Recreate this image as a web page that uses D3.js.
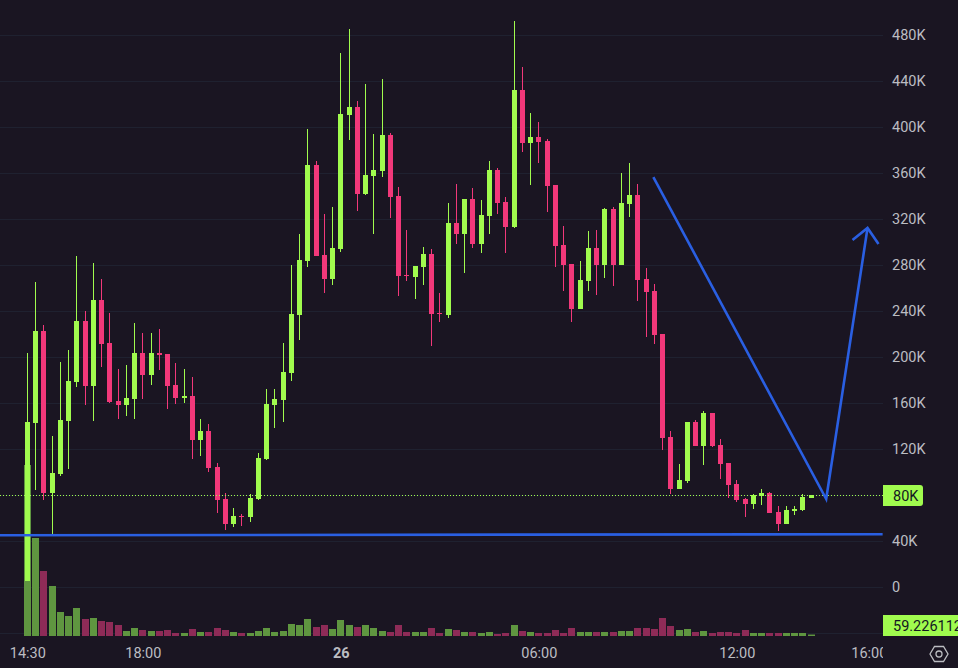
<!DOCTYPE html>
<html>
<head>
<meta charset="utf-8">
<script src="https://cdn.jsdelivr.net/npm/d3@7"></script>
<style>
	html, body { margin: 0; padding: 0; background: #1a1522; }
	svg { display: block; font-family: Roboto, sans-serif; }
</style>
</head>
<body>
<script>
// * DATA (15 minute bars, prices in K)
const opens = [
	5.2,142.6,222.6,81.7,98.3,144.3,178.3,231.3,174.8,249.6,
	212.2,161.7,158.3,163.5,203.5,184.3,203.5,202.6,175.7,164.3,
	166.1,127.8,135.7,104.3,76.5,54.8,61.7,60.9,76.5,111.3,
	158.3,162.6,186.1,236.5,283.5,367,288.7,267.8,293.9,410.4,
	417.4,341.7,357.4,361.7,393,340,271.3,269.6,278.3,289.6,
	238.3,236.5,316.5,307,337.4,298.3,322.6,362.6,334.8,313,
	432.2,386.1,391.3,387.8,349.6,297.4,280.9,241.7,266.1,294.8,
	280,328.7,280,333,340.9,267.8,257.4,220,130.4,85.2,
	92.2,143.5,122.6,151.3,123.5,107.8,89.6,76.5,72.2,79.1,
	81.7,65.2,54.8,66.1,67,77.4
];
const highs = [
	203.5,265.2,227.8,131.3,195.7,206.1,287.8,240,281.7,267.8,
	238.3,189.6,193,229.6,220.9,220.9,224.3,202.6,194.8,189.6,
	182.6,146.1,141.7,107.8,81.7,68.7,63.5,80.9,116.5,172.2,
	172.2,212.2,280,307,398.3,370.4,324.3,330.4,464.3,485.2,
	422.6,437.4,393.9,441.7,394.8,347.8,310.4,279.1,295.7,293.9,
	255.7,333.9,350.4,337.4,347,336.5,370.4,364.3,339.1,492.2,
	452.2,412.2,404.3,389.6,349.6,313.9,280.9,283.5,309.6,310.4,
	329.6,330.4,360,368.7,350.4,277.4,263.5,220,135.7,107,
	143.5,145.2,153,151.3,128.7,107.8,93,77.4,80.9,85.2,
	82.6,70.4,70.4,70.4,80.9,80
];
const lows = [
	5.2,84.3,75.7,45.2,96.5,102.6,173.9,158.3,144.3,191.3,
	160,146.1,148.7,146.1,163.5,175.7,188.7,154.8,159.1,160,
	111.3,113.9,100,64.3,49.6,52.2,53,56.5,75.7,110.4,
	138.3,143.5,179.1,214.8,278.3,287.8,255.7,262.6,291.3,388.7,
	327,340.9,307,356.5,320.9,253,266.1,250.4,262.6,209.6,
	230.4,233.9,298.3,273,294.8,290.4,307,324.3,290.4,312.2,
	378.3,349.6,368.7,326.1,278.3,257.4,230.4,241.7,257.4,253.9,
	268.7,261.7,280,321.7,248.7,217.4,211.3,119.1,80.9,85.2,
	90.4,122.6,106.1,121.7,93.9,77.4,73.9,60.9,67.8,71.3,
	64.3,48.7,54.8,62.6,66.1,77.4
];
const closes = [
	143.5,222.6,81.7,99.1,145.2,179.1,231.3,174.8,249.6,211.3,
	160.9,158.3,164.3,203.5,184.3,203.5,201.7,174.8,164.3,166.1,
	127.8,135.7,103.5,75.7,54.8,61.7,60.9,77.4,112.2,159.1,
	163.5,187,237.4,284.3,367,287.8,267.8,294.8,411.3,417.4,
	341.7,358.3,362.6,393,339.1,270.4,270.4,279.1,289.6,237.4,
	237.4,316.5,307,337.4,298.3,323.5,362.6,333.9,313,432.2,
	386.1,391.3,387,348.7,296.5,280,241.7,267,294.8,280,
	328.7,280,333.9,340.9,267,256.5,219.1,129.6,85.2,93,
	143.5,122.6,151.3,122.6,107,88.7,75.7,72.2,80,81.7,
	64.3,54.8,67,67.8,78.3,80
];
const volumes = [
	6840,3920,2600,2000,960,800,1120,680,720,600,
	560,440,200,320,240,200,200,240,120,120,
	280,160,160,320,240,160,120,120,200,320,
	160,200,480,440,680,360,440,280,640,440,
	360,440,320,200,160,440,160,160,160,320,
	120,280,240,160,160,120,160,80,120,440,
	200,160,120,120,240,120,320,160,160,160,
	160,160,200,200,320,320,280,720,400,240,
	280,160,200,120,160,160,120,240,120,120,
	120,120,120,120,120,59.226112
];
const gridValues = [-40,0,40,80,120,160,200,240,280,320,360,400,440,480];
const priceTicks = [0,40,80,120,160,200,240,280,320,360,400,440,480];
const timeTicks = [0,14,38,62,86,102];
const timeLabels = ["14:30","18:00","26","06:00","12:00","16:00"];
const lastPrice = 80;
const lastVolume = "59.226112";

// hand drawn lines, [bar index, price]
const supportLine = [[-3.38,45],[103.67,45.9]];
const forecastLine = [[75.88,356.5],[96.83,76.5],[101.84,312.2]];
const arrowHead = [[100.02,301.7],[101.84,312.2],[103.17,298.3]];

// * SETUP
const width = 958;
const height = 668;
const plotRight = 883;
const fontSize = 14.5;
const bg = "#1a1522";
const up = "#a0fb4e";
const down = "#f2387a";
const upVol = "#5f9640";
const downVol = "#8e2b57";
const blue = "#2a5fe2";
const textColor = "#bcbdc2";

const x = d3.scaleLinear().domain([0, 95]).range([27.35, 811.1]);
const y = d3.scaleLinear().domain([0, 480]).range([587, 35]);
const yVol = d3.scaleLinear().domain([0, 6840]).range([636, 465]);
const bars = d3.range(opens.length);
const px = (i) => Math.floor(x(i));
const line = d3.line().x((d) => x(d[0])).y((d) => y(d[1]));

const svg = d3
	.select("body")
	.append("svg")
	.attr("width", width)
	.attr("height", height)
	.attr("viewBox", [0, 0, width, height]);

svg.append("rect")
	.attr("width", width)
	.attr("height", height)
	.attr("fill", bg);

svg.append("clipPath")
	.attr("id", "plot")
	.append("rect")
	.attr("width", plotRight)
	.attr("height", height);

// * GRID
svg.append("g")
	.selectAll("line")
	.data(gridValues)
	.join("line")
	.attr("x1", 0)
	.attr("x2", plotRight)
	.attr("y1", (d) => y(d) + 0.5)
	.attr("y2", (d) => y(d) + 0.5)
	.attr("stroke", "#1f2130");

const plot = svg.append("g").attr("clip-path", "url(#plot)");

// * VOLUME
plot.append("g")
	.selectAll("rect")
	.data(bars)
	.join("rect")
	.attr("x", (i) => px(i) - 3)
	.attr("y", (i) => yVol(volumes[i]))
	.attr("width", 7)
	.attr("height", (i) => yVol(0) - yVol(volumes[i]))
	.attr("fill", (i) => (closes[i] >= opens[i] ? upVol : downVol));

// * CANDLES
const candle = plot
	.append("g")
	.selectAll("g")
	.data(bars)
	.join("g")
	.attr("fill", (i) => (closes[i] >= opens[i] ? up : down));

candle
	.append("rect")
	.attr("x", (i) => px(i))
	.attr("y", (i) => Math.round(y(highs[i])))
	.attr("width", 1)
	.attr("height", (i) => Math.round(y(lows[i])) - Math.round(y(highs[i])));

candle
	.append("rect")
	.attr("x", (i) => px(i) - 2)
	.attr("y", (i) => Math.round(y(Math.max(opens[i], closes[i]))))
	.attr("width", 5)
	.attr("height", (i) =>
		Math.max(
			1,
			Math.round(y(Math.min(opens[i], closes[i]))) -
				Math.round(y(Math.max(opens[i], closes[i])))
		)
	);

// * LAST PRICE LINE
plot.append("line")
	.attr("x1", 0)
	.attr("x2", plotRight)
	.attr("y1", y(lastPrice) + 0.5)
	.attr("y2", y(lastPrice) + 0.5)
	.attr("stroke", up)
	.attr("stroke-dasharray", "1 2");

// * DRAWINGS
plot.selectAll(".drawing")
	.data([supportLine, forecastLine, arrowHead])
	.join("path")
	.attr("class", "drawing")
	.attr("d", line)
	.attr("fill", "none")
	.attr("stroke", blue)
	.attr("stroke-width", 2.6);

// * PRICE AXIS
svg.append("g")
	.attr("transform", "translate(892,0)")
	.call(
		d3
			.axisRight(y)
			.tickValues(priceTicks)
			.tickFormat((d) => (d === 0 ? "0" : d + "K"))
			.tickSize(0)
			.tickPadding(0)
	)
	.call((g) => g.select(".domain").remove())
	.call((g) =>
		g
			.selectAll("text")
			.attr("fill", textColor)
			.attr("font-family", "Roboto, sans-serif")
			.attr("font-size", fontSize)
	);

// * TIME AXIS
svg.append("g")
	.attr("clip-path", "url(#plot)")
	.append("g")
	.attr("transform", "translate(0,653)")
	.call(
		d3
			.axisBottom(x)
			.tickValues(timeTicks)
			.tickFormat((d, i) => timeLabels[i])
			.tickSize(0)
			.tickPadding(0)
	)
	.call((g) => g.select(".domain").remove())
	.call((g) =>
		g
			.selectAll("text")
			.attr("y", 0)
			.attr("dy", "0.35em")
			.attr("fill", textColor)
			.attr("font-family", "Roboto, sans-serif")
			.attr("font-size", fontSize)
			.attr("font-weight", (d, i) => (timeLabels[i] === "26" ? 700 : 400))
	);

// * VALUE LABELS
svg.append("path")
	.attr("d", "M883,485H920a3,3 0 0 1 3,3V503a3,3 0 0 1 -3,3H883Z")
	.attr("fill", up);
svg.append("text")
	.attr("x", 893)
	.attr("y", 495.5)
	.attr("dy", "0.35em")
	.attr("font-size", fontSize)
	.attr("fill", "#131722")
	.text(lastPrice + "K");

svg.append("rect")
	.attr("x", 883)
	.attr("y", 615)
	.attr("width", 75)
	.attr("height", 21)
	.attr("fill", up);
svg.append("text")
	.attr("x", 893)
	.attr("y", 625.5)
	.attr("dy", "0.35em")
	.attr("font-size", fontSize)
	.attr("fill", "#131722")
	.text(lastVolume);

// * SETTINGS ICON
const hexagon = [[-9,0],[-4.5,-7.5],[4.5,-7.5],[9,0],[4.5,7.5],[-4.5,7.5]];
const icon = svg.append("g").attr("transform", "translate(939,654)");
icon.append("path")
	.attr("d", d3.line()(hexagon) + "Z")
	.attr("fill", "none")
	.attr("stroke", textColor)
	.attr("stroke-width", 1.3);
icon.append("circle")
	.attr("r", 3)
	.attr("fill", "none")
	.attr("stroke", textColor)
	.attr("stroke-width", 1.3);
</script>
</body>
</html>
